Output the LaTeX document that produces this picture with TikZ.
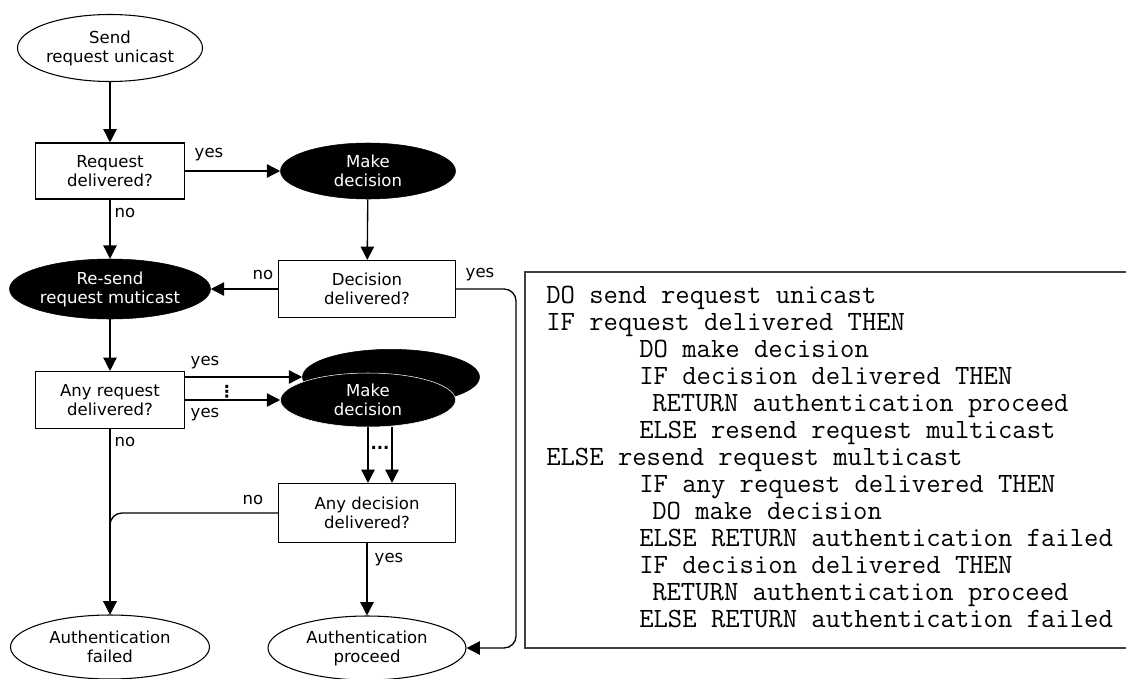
\documentclass[tikz,border=0pt]{standalone}
\usepackage{fontspec}
\setmainfont{DejaVu Sans}
\usetikzlibrary{shapes.geometric,arrows.meta,positioning,calc}

\begin{document}
\begin{tikzpicture}[
  x=0.75pt, y=-0.75pt,
  every node/.style={font=\fontsize{12.4}{14.25}\selectfont},
  term/.style={draw, ellipse, line width=0.8pt, inner sep=0pt, align=center},
  act/.style={draw, fill=black, ellipse, text=white, inner sep=0pt, align=center},
  test/.style={draw, rectangle, line width=0.8pt, inner sep=2pt, align=center},
  arr/.style={-{Triangle[length=10pt,width=10pt]}, line width=1pt},
  lbl/.style={inner sep=0pt}
]
\useasboundingbox (0,0) rectangle (1126,678);

\node[term, minimum width=138.75pt, minimum height=50.25pt] (send) at (110,48) {Send\\request unicast};
\node[test, minimum width=111.75pt, minimum height=42pt] (req) at (110,171) {Request\\delivered?};
\node[act, minimum width=131.25pt, minimum height=42pt] (mk1) at (368,171) {Make\\decision};
\node[act, minimum width=150.75pt, minimum height=45pt] (resend) at (110,289) {Re-send\\request muticast};
\node[test, minimum width=132.75pt, minimum height=42.75pt] (dec) at (367,289) {Decision\\delivered?};
\node[test, minimum width=111.75pt, minimum height=42.75pt] (anyreq) at (110,400) {Any request\\delivered?};
\node[act, minimum width=132.75pt, minimum height=41.5pt] (mkb) at (391,377) {};
\node[act, draw=white, minimum width=131.25pt, minimum height=40.5pt] (mkf) at (368,400) {Make\\decision};
\node[test, minimum width=132.75pt, minimum height=44.25pt] (anydec) at (367,513) {Any decision\\delivered?};
\node[term, minimum width=149.25pt, minimum height=48pt] (failed) at (110,647) {Authentication\\failed};
\node[term, minimum width=148.5pt, minimum height=48pt] (proceed) at (367,648) {Authentication\\proceed};

\draw[arr] (send) -- (req);
\draw[arr] (req) -- (mk1);
\draw[arr] (req) -- (resend);
\draw[arr] (mk1) -- (dec);
\draw[arr] (dec) -- (resend);
\draw[arr, rounded corners=9pt] (dec.east) -- ++(60,0) |- (proceed.east);
\draw[arr] (resend) -- (anyreq);
\draw[arr] (anyreq.east |- mkb.west) -- (mkb.west);
\draw[arr] (anyreq.east |- mkf.west) -- (mkf.west);
\draw[arr] (mkf.south) -- (mkf.south |- anydec.north);
\draw[arr] ([xshift=18pt]mkf.south) -- ([xshift=18pt]mkf.south |- anydec.north);
\draw[arr] (anyreq) -- (failed);
\draw[arr, rounded corners=9pt] (anydec.west) -| (failed.north);
\draw[arr] (anydec) -- (proceed);

\node[lbl] (yes1) at (209,155) {yes};
\node[lbl] (no1) at (125,213) {no};
\node[lbl] (no2) at (263,275) {no};
\node[lbl] (yes2) at (480,275) {yes};
\node[lbl] (yes3) at (205,363) {yes};
\node[lbl] (yes4) at (205,415) {yes};
\node[lbl] (vdot) at (227,392) {\textbf{⋮}};
\node[lbl] (no3) at (125,442) {no};
\node[lbl] (hdot) at (380,448) {\textbf{...}};
\node[lbl] (no4) at (253,500) {no};
\node[lbl] (yes5) at (389,560) {yes};

% pseudo code
\draw[line width=0.9pt, black!75] (1126,272) -| (525,648) -- (1126,648);
\node[anchor=north west, inner sep=0pt, align=left, font=\fontsize{20.9}{20.25}\selectfont\ttfamily] (code) at (546,286) {DO send request unicast\\
IF request delivered THEN\\
\hspace*{69.75pt}DO make decision\\
\hspace*{69.75pt}IF decision delivered THEN\\
\hspace*{79.5pt}RETURN authentication proceed\\
\hspace*{69.75pt}ELSE resend request multicast\\
ELSE resend request multicast\\
\hspace*{69.75pt}IF any request delivered THEN\\
\hspace*{79.5pt}DO make decision\\
\hspace*{69.75pt}ELSE RETURN authentication failed\\
\hspace*{69.75pt}IF decision delivered THEN\\
\hspace*{79.5pt}RETURN authentication proceed\\
\hspace*{69.75pt}ELSE RETURN authentication failed};
\end{tikzpicture}
\end{document}
